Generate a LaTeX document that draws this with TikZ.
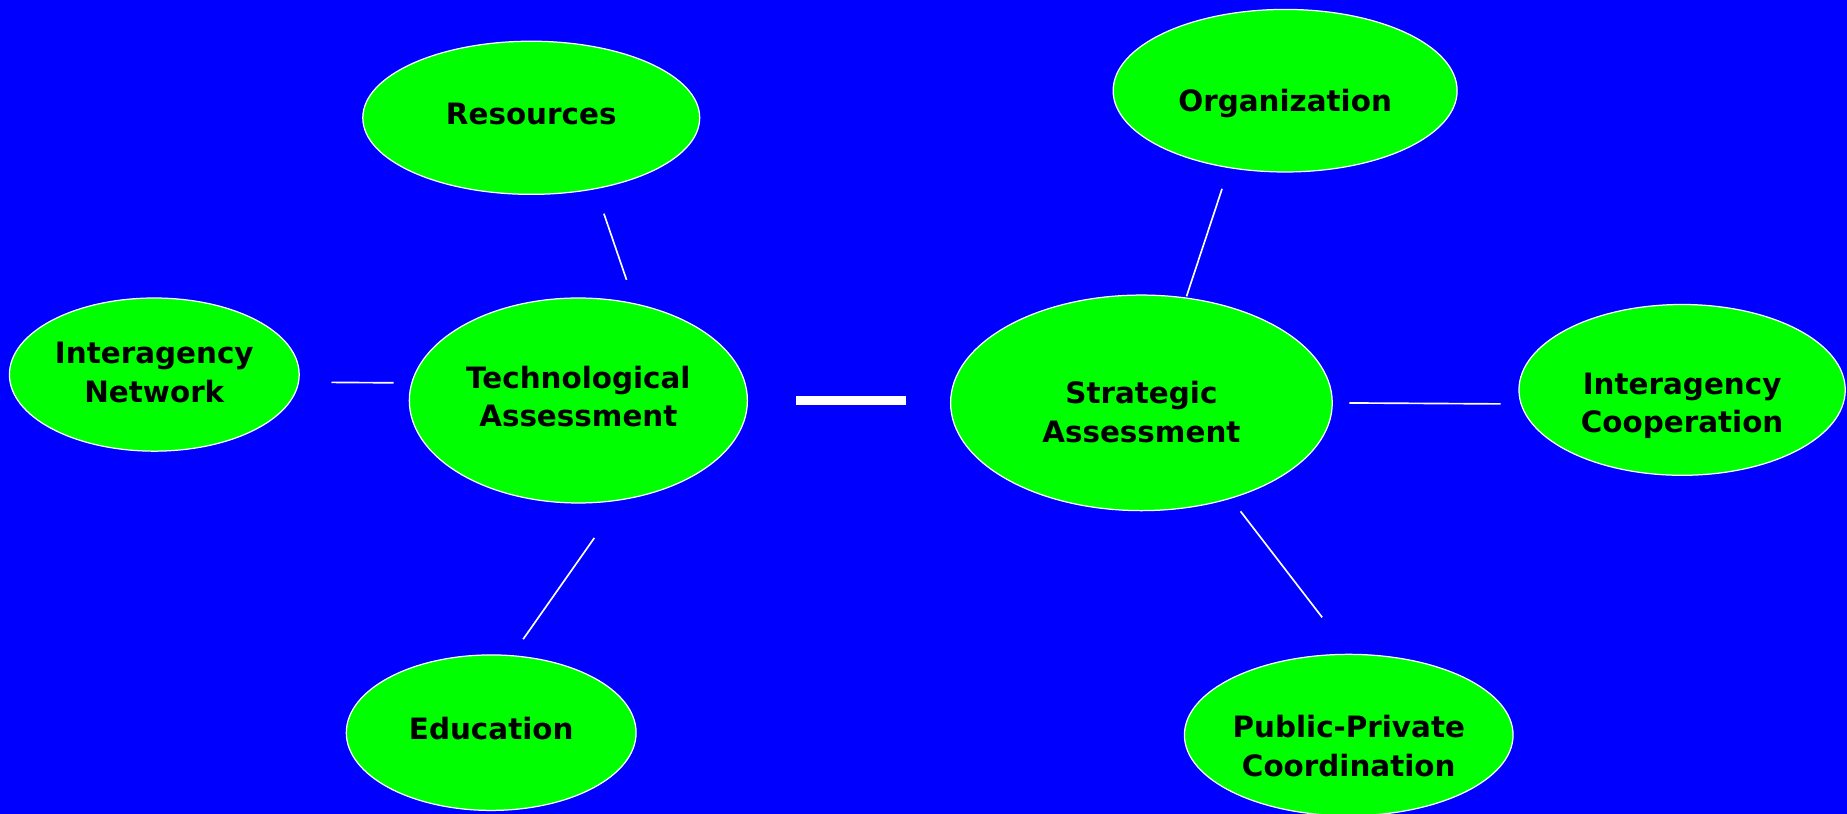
\documentclass[tikz,border=0pt]{standalone}
\usepackage{fontspec}
\setmainfont{DejaVu Sans}
\usetikzlibrary{shapes.geometric}
\definecolor{Az}{RGB}{0, 0, 255}
\definecolor{V}{RGB}{0, 255, 0}
% ajuste vertical del texto dentro de la elipse
\newcommand{\altura}[1]{\rule{0pt}{#1}}
\newcommand{\fondo}[1]{\rule[-#1]{0pt}{0pt}}

\begin{document}
\begin{tikzpicture}[
    elip/.style={ellipse, draw=white, line width=0.6pt, fill=V, inner sep=0pt,
      align=center, font=\fontsize{14.2}{18.5}\selectfont\bfseries},
    lin/.style={draw=white, line width=0.8pt}]
    %Fondo azul
    \fill[color=Az] (0,0) rectangle (31.36,13.82);
    \useasboundingbox (0,0) rectangle (31.36,13.82);

    %Lado izquierdo
    \node[elip, minimum width=5.72cm, minimum height=2.6cm] (res) at (9.02,11.82) {Resources\fondo{3.4pt}};
    \node[elip, minimum width=4.92cm, minimum height=2.6cm] (net) at (2.62,7.46) {Interagency\\Network\fondo{2.3pt}};
    \node[elip, minimum width=5.74cm, minimum height=3.48cm] (tech) at (9.82,7.02) {Technological\\Assessment\fondo{4pt}};
    \node[elip, minimum width=4.92cm, minimum height=2.64cm] (edu) at (8.34,1.38) {Education\fondo{4.6pt}};

    %Lado derecho
    \node[elip, minimum width=5.84cm, minimum height=2.76cm] (org) at (21.82,12.28) {\altura{23pt}Organization};
    \node[elip, minimum width=6.48cm, minimum height=3.66cm] (strat) at (19.38,6.98) {\altura{19.7pt}Strategic\\Assessment};
    \node[elip, minimum width=5.54cm, minimum height=2.9cm] (coop) at (28.56,7.2) {\altura{25.7pt}Interagency\\Cooperation};
    \node[elip, minimum width=5.54cm, minimum height=2.74cm] (ppc) at (22.9,1.34) {\altura{21.5pt}Public-Private\\Coordination};

    %Lineas
    \draw[lin, shorten <=0.44cm, shorten >=0.42cm] (res.-48) -- (tech.60);
    \draw[lin, shorten <=0.55cm, shorten >=0.30cm] (net.-3) -- (tech.174);
    \draw[lin, shorten <=0.78cm, shorten >=0.33cm] (tech.-67) -- (edu.75);
    \draw[lin, shorten <=0.37cm, shorten >=0.02cm] (org.234) -- (strat.67);
    \draw[lin, shorten <=0.28cm, shorten >=0.34cm] (strat.0) -- (coop.185);
    \draw[lin, shorten <=0.27cm, shorten >=0.78cm] (strat.-47) -- (ppc.89.5);

    %Linea gruesa del centro
    \draw[white, line width=4pt, shorten <=0.82cm, shorten >=0.74cm] (tech.east) -- (tech.east -| strat.west);
\end{tikzpicture}
\end{document}
